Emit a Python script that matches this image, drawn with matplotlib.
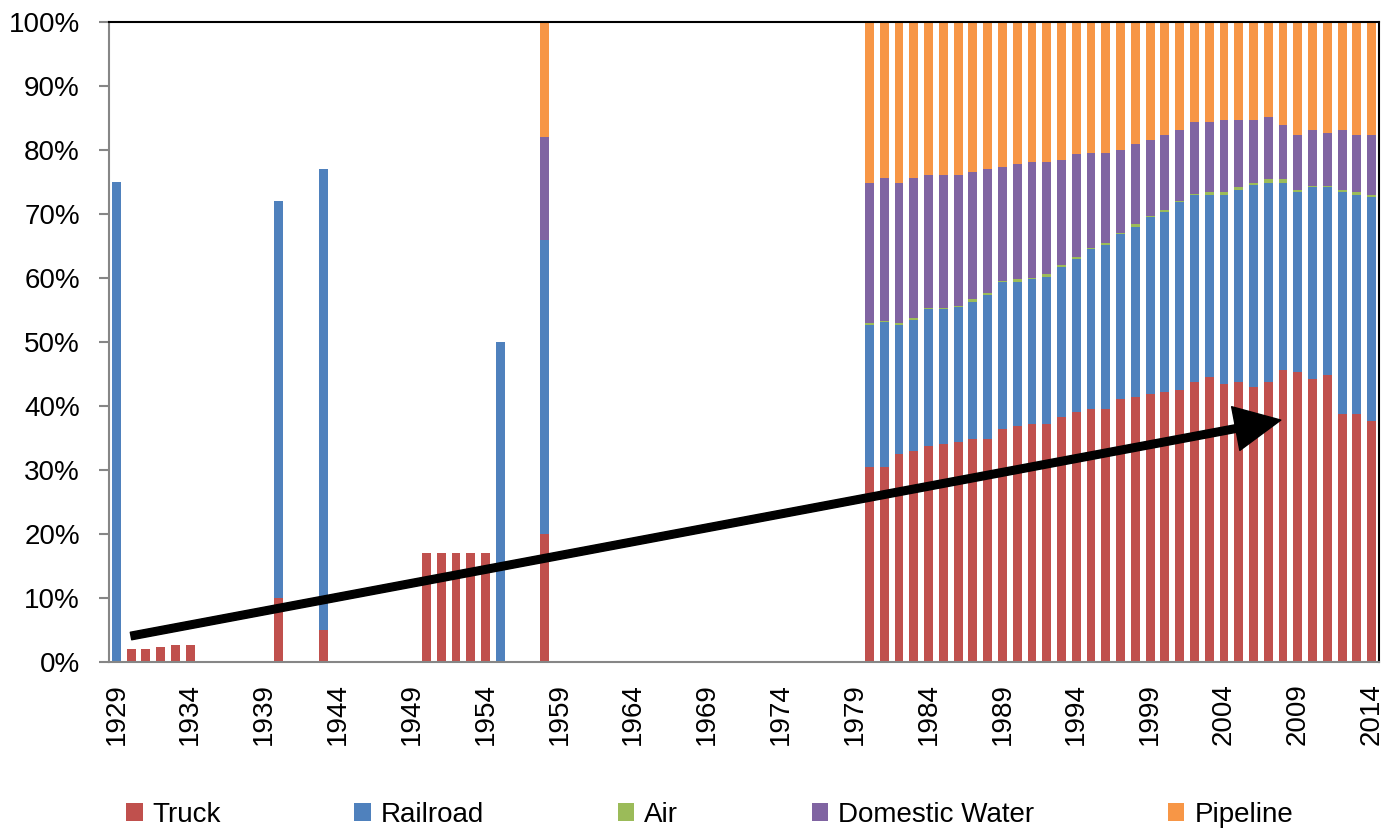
import numpy as np
import matplotlib
matplotlib.use("Agg")
import matplotlib.pyplot as plt

plt.rcParams['font.family'] = ['Liberation Sans Narrow', 'Liberation Sans', 'DejaVu Sans']

# years on the axis
years = list(range(1929, 2015))

# sparse early observations (percent share)
early_years = [1929, 1930, 1931, 1932, 1933, 1934, 1940, 1943, 1950, 1951, 1952, 1953, 1954, 1955, 1958]
early_truck = [0, 2, 2, 2.4, 2.7, 2.7, 10, 5, 17, 17, 17, 17, 17, 0, 20]
early_rail = [75, 0, 0, 0, 0, 0, 62, 72, 0, 0, 0, 0, 0, 50, 46]
early_air = [0, 0, 0, 0, 0, 0, 0, 0, 0, 0, 0, 0, 0, 0, 0]
early_water = [0, 0, 0, 0, 0, 0, 0, 0, 0, 0, 0, 0, 0, 0, 16]
early_pipe = [0, 0, 0, 0, 0, 0, 0, 0, 0, 0, 0, 0, 0, 0, 18]

# 1980-2014
late_years = list(range(1980, 2015))
late_truck = [30.5, 30.5, 32.5, 32.9, 33.7, 34.0, 34.4, 34.8, 34.8, 36.4,
              36.8, 37.2, 37.2, 38.3, 39.1, 39.5, 39.5, 41.1, 41.4, 41.8,
              42.2, 42.5, 43.8, 44.6, 43.4, 43.8, 43.0, 43.8, 45.7, 45.3,
              44.2, 44.9, 38.7, 38.7, 37.6]
late_rail = [22.2, 22.6, 20.2, 20.6, 21.4, 21.1, 21.0, 21.4, 22.6, 23.0,
             22.6, 22.6, 23.0, 23.4, 23.8, 25.0, 25.7, 25.7, 26.6, 27.7,
             28.1, 29.4, 29.2, 28.4, 29.6, 30.0, 31.6, 31.1, 29.2, 28.1,
             30.0, 29.3, 34.7, 34.3, 35.0]
late_air = [0.2, 0.2, 0.2, 0.2, 0.2, 0.2, 0.2, 0.5, 0.2, 0.2,
            0.4, 0.2, 0.4, 0.4, 0.4, 0.2, 0.2, 0.2, 0.4, 0.2,
            0.4, 0.2, 0.2, 0.4, 0.4, 0.4, 0.2, 0.5, 0.5, 0.4,
            0.2, 0.2, 0.4, 0.4, 0.4]
late_water = [22.0, 22.4, 22.0, 22.0, 20.8, 20.8, 20.5, 19.8, 19.4, 17.7,
              18.0, 18.1, 17.5, 16.4, 16.0, 14.9, 14.2, 13.0, 12.5, 11.9,
              11.7, 11.0, 11.1, 10.9, 11.3, 10.5, 9.9, 9.7, 8.5, 8.6,
              8.7, 8.3, 9.3, 9.0, 9.4]
late_pipe = [25.1, 24.3, 25.1, 24.3, 23.9, 23.9, 23.9, 23.5, 23.0, 22.7,
             22.2, 21.9, 21.9, 21.5, 20.7, 20.4, 20.4, 20.0, 19.1, 18.4,
             17.6, 16.9, 15.7, 15.7, 15.3, 15.3, 15.3, 14.9, 16.1, 17.6,
             16.9, 17.3, 16.9, 17.6, 17.6]

labels = ['Truck', 'Railroad', 'Air', 'Domestic Water', 'Pipeline']
colors = ['#C0504D', '#4F81BD', '#9BBB59', '#8064A2', '#F79646']


def full_series(early_vals, late_vals):
    s = dict(zip(early_years, early_vals))
    s.update(dict(zip(late_years, late_vals)))
    return np.array([s.get(y, 0.0) for y in years])


series = [full_series(early_truck, late_truck),
          full_series(early_rail, late_rail),
          full_series(early_air, late_air),
          full_series(early_water, late_water),
          full_series(early_pipe, late_pipe)]

fig = plt.figure(figsize=(13.95, 8.33), dpi=100)
ax = fig.add_axes([109 / 1395, 1 - 662 / 833, 1270 / 1395, 640 / 833])

x = np.arange(len(years))
bottom = np.zeros(len(years))
for vals, lab, col in zip(series, labels, colors):
    ax.bar(x, vals, width=0.6, bottom=bottom, color=col, label=lab, linewidth=0)
    bottom += vals

ax.set_xlim(-0.5, len(years) - 0.5)
ax.set_ylim(0, 100)
ax.set_yticks(np.arange(0, 101, 10))
ax.set_yticklabels([f'{v}%' for v in range(0, 101, 10)])
ax.set_xticks(x[::5])
ax.set_xticklabels([str(y) for y in years[::5]], rotation=90)

ax.tick_params(axis='y', length=7, width=1.5, color='#868686', pad=14, labelsize=20)
ax.tick_params(axis='x', length=0, pad=15, labelsize=20)
for side in ['left', 'bottom']:
    ax.spines[side].set_color('#868686')
    ax.spines[side].set_linewidth(1.5)
for side in ['top', 'right']:
    ax.spines[side].set_color('black')
    ax.spines[side].set_linewidth(1.5)

# trend arrow
ax.annotate('', xy=(78.85, 37.8), xytext=(0.99, 4.06),
            arrowprops=dict(facecolor='black', edgecolor='black',
                            width=5.5, headwidth=32, headlength=33))

fig.legend(loc='center', bbox_to_anchor=(0.5086, 0.022), ncol=5, frameon=False,
           fontsize=20, handlelength=0.6, handleheight=0.6, handletextpad=0.36,
           columnspacing=4.8)

fig.savefig('out.png', dpi=100)
